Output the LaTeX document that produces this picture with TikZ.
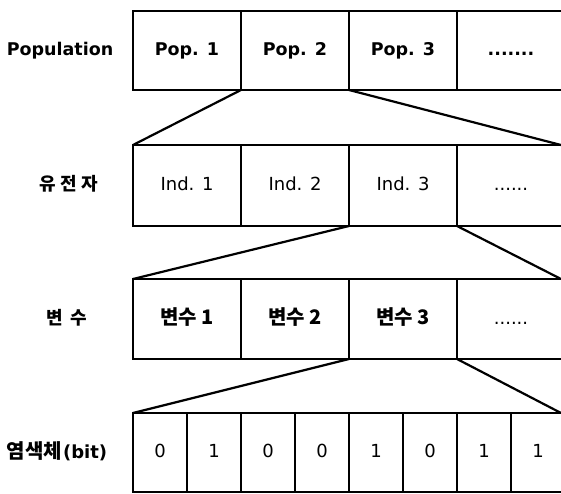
\documentclass[tikz,border=0pt]{standalone}
\usepackage{fontspec}
\setmainfont{DejaVu Sans}
\newfontfamily\kr{Noto Sans CJK KR}
\begin{document}
\begin{tikzpicture}[x=1pt,y=1pt,
  cell/.style={draw, line width=1.6pt, inner sep=0pt, outer sep=0pt, anchor=south west,
    text height=13pt, text depth=3pt},
  hl/.style={line width=2.6pt},
  link/.style={line width=2.2pt},
  lbl/.style={inner sep=0pt, text height=13pt, text depth=3pt},
  popf/.style={font=\fontsize{17.5}{20}\selectfont\bfseries},
  indf/.style={font=\fontsize{18}{21}\selectfont},
  varf/.style={font=\fontsize{20}{23}\selectfont\kr\bfseries},
  bitf/.style={font=\fontsize{18}{21}\selectfont},
  krf/.style={font=\fontsize{18}{21}\selectfont\kr\bfseries},
  chrf/.style={font=\fontsize{18}{21}\selectfont\bfseries}]
\path[use as bounding box] (0,0) rectangle (561,493);
\clip (0,0) rectangle (561,493);
% row labels
\node[lbl, popf] (lpop) at (60,442) {Population};
\node[lbl, krf] (lind) at (69,307) {유\hspace{4.5pt}전\hspace{4.5pt}자};
\node[lbl, krf] (lvar) at (67,174) {변\hspace{8pt}수};
\node[lbl, chrf] (lbit) at (57,40) {{\kr\fontsize{20}{23}\selectfont 염색체}\hspace{1pt}(bit)};
% row 1
\begin{scope}[every node/.style={cell, popf, minimum width=108pt, minimum height=79pt}]
\node (p1) at (133,403) {Pop. 1};
\node (p3) at (349,403) {Pop. 3};
\node (p4) at (457,403) {.......};
\node[hl] (p2) at (241,403) {Pop. 2};
\end{scope}
% row 2
\begin{scope}[every node/.style={cell, indf, minimum width=108pt, minimum height=81pt}]
\node (i1) at (133,267) {Ind. 1};
\node (i2) at (241,267) {Ind. 2};
\node (i4) at (457,267) {......};
\node[hl] (i3) at (349,267) {Ind. 3};
\end{scope}
% row 3
\begin{scope}[every node/.style={cell, varf, minimum width=108pt, minimum height=80pt}]
\node (v1) at (133,134) {변수 1};
\node (v2) at (241,134) {변수 2};
\node[font=\fontsize{18}{21}\selectfont] (v4) at (457,134) {......};
\node[hl] (v3) at (349,134) {변수 3};
\end{scope}
% row 4
\begin{scope}[every node/.style={cell, bitf, minimum width=54pt, minimum height=79pt}]
\node (b1) at (133,1) {0};
\node (b2) at (187,1) {1};
\node (b3) at (241,1) {0};
\node (b4) at (295,1) {0};
\node (b5) at (349,1) {1};
\node (b6) at (403,1) {0};
\node (b7) at (457,1) {1};
\node (b8) at (511,1) {1};
\end{scope}
% free ends at the right edge
\coordinate (r2) at (561,348);
\coordinate (r3) at (561,214);
\coordinate (r4) at (561,80);
% connectors
\draw[link] (p2.south west) -- (i1.north west);
\draw[link] (p2.south east) -- (r2);
\draw[link] (i3.south west) -- (v1.north west);
\draw[link] (i3.south east) -- (r3);
\draw[link] (v3.south west) -- (b1.north west);
\draw[link] (v3.south east) -- (r4);
\end{tikzpicture}
\end{document}
